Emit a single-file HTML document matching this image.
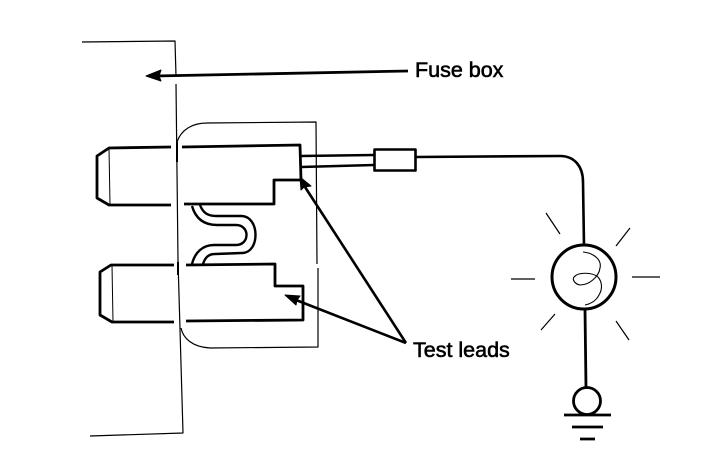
<!DOCTYPE html>
<html><head><meta charset="utf-8"><style>
html,body{margin:0;padding:0;background:#fff;width:704px;height:472px;overflow:hidden}
svg{display:block}
text{font-family:"Liberation Sans",sans-serif;font-size:21.5px;fill:#000;stroke:#000;stroke-width:.6}
</style></head><body>
<svg width="704" height="472" viewBox="0 0 704 472" xmlns="http://www.w3.org/2000/svg" fill="none" stroke="#000" stroke-linejoin="round">
<rect width="704" height="472" fill="#fff" stroke="none"/>
<!-- Fuse box outline -->
<path d="M82,42 L175,41 L176,76 M176,84 L178,260 L183,433 L90,436" stroke-width="1.2"/>
<!-- Fuse outline -->
<path d="M177,142 C181,130 192,123 207,123 L316,122 L317,264 M318,268 L318,347 L210,348 C192,347 183,338 181,328" stroke-width="1.2"/>
<!-- Upper blade -->
<path d="M171,147 L109,148 L97,156 L97,198 L109,205 L171,205" stroke-width="2.8"/>
<path d="M182,147 L300,145 L301,180 L274,180 L274,204 L184,204" stroke-width="2.8"/>
<path d="M109,148 L110,205" stroke-width="1"/>
<path d="M177,142 L177,162" stroke-width="2"/>
<!-- Lower blade -->
<path d="M174,265 L111,265 L100,272 L100,315 L112,322 L174,322" stroke-width="2.8"/>
<path d="M186,265 L275,264 L275,286 L303,286 L303,320 L186,321" stroke-width="2.8"/>
<path d="M112,265 L113,322" stroke-width="1"/>
<path d="M178,262 L178,275" stroke-width="2"/>
<!-- S link -->
<path d="M192,206 C196,220 205,225 217,225 L236,225 C250,225 250,245 236,245 L214,245 C203,245 195,252 192,264" stroke-width="2.4"/>
<path d="M200,205 C203,213 208,216 216,216 L242,216 C260,217 260,253 242,253 L215,254 C208,254 205,258 203,264" stroke-width="2.4"/>
<!-- Double wire and connector -->
<path d="M301,156 L374,155 M301,167 L374,165" stroke-width="2.4"/>
<rect x="374.500" y="149.500" width="41" height="21" stroke-width="2.6"/>
<path d="M416,157 L560,156 C575,156 583,167 583,182 L584,246" stroke-width="2.6"/>
<!-- Bulb -->
<circle cx="584" cy="277" r="32" stroke-width="3"/>
<path d="M583,252 C594,253 602,260 600,268 C599,276 590,285 580,285 C575,284 572,280 574,277 C578,272 592,272 598,277 C603,283 602,290 599,295 C596,301 590,304 585,305" stroke-width="1.1"/>
<path d="M585,309 L586,388" stroke-width="2.8"/>
<path d="M546,213 L560,234 M630,228 L616,246 M511,279 L535,279 M632,277 L660,277 M555,314 L541,330 M616,321 L629,340" stroke-width="1.2"/>
<!-- Ground -->
<circle cx="587" cy="401" r="13.500" stroke-width="2.8"/>
<path d="M564,415 L611,415 M572,427 L603,427 M580,439 L595,439" stroke-width="2.8"/>
<!-- Fuse box arrow -->
<path d="M155,76 L408,71" stroke-width="2.8"/>
<path d="M146,76 L161,70 L159,76 L161,81 Z" fill="#000" stroke-width="1"/>
<!-- Test lead arrows -->
<path d="M406,343 L305,187 M406,343 L296,300" stroke-width="2.6"/>
<path d="M300,177 L311,186 L304,187 L301,190 Z" fill="#000" stroke-width="1"/>
<path d="M285,295 L300,296 L297,300 L296,305 Z" fill="#000" stroke-width="1"/>
<text x="415" y="77">Fuse box</text>
<text x="413" y="357">Test leads</text>
</svg>
</body></html>
